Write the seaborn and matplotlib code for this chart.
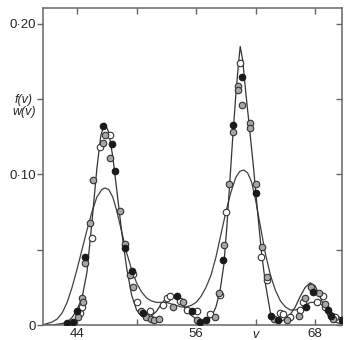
import numpy as np
import pandas as pd
import matplotlib
matplotlib.use("Agg")
import matplotlib.pyplot as plt
import seaborn as sns

# --- curves ---
v_f = [40.5, 41.5, 42.5, 43.0, 43.5, 44.0, 44.5, 45.0, 45.5, 46.0, 46.4, 46.8, 47.2, 47.6, 48.0,
       48.5, 49.0, 49.5, 50.0, 50.5, 51.0, 51.5, 52.0, 52.5, 53.0, 53.6, 54.2, 54.8, 55.4, 56.0,
       56.6, 57.1, 57.6, 58.0, 58.4, 58.8, 59.1, 59.4, 59.7, 60.0, 60.25, 60.45, 60.7, 61.0, 61.4,
       61.8, 62.2, 62.6, 63.0, 63.5, 64.0, 64.5, 65.0, 65.5, 66.0, 66.5, 67.0, 67.5, 68.0, 68.5,
       69.0, 69.5, 70.0, 70.5, 71.0]
f_val = [0.000, 0.000, 0.001, 0.002, 0.005, 0.010, 0.018, 0.035, 0.068, 0.104, 0.126, 0.134, 0.128, 0.112, 0.090,
         0.062, 0.038, 0.020, 0.010, 0.006, 0.005, 0.006, 0.009, 0.014, 0.018, 0.019, 0.017, 0.012, 0.007, 0.004,
         0.003, 0.003, 0.006, 0.012, 0.022, 0.040, 0.065, 0.095, 0.125, 0.152, 0.172, 0.185, 0.176, 0.155, 0.130,
         0.104, 0.075, 0.048, 0.027, 0.008, 0.002, 0.002, 0.004, 0.007, 0.012, 0.019, 0.025, 0.028, 0.026, 0.019,
         0.010, 0.004, 0.002, 0.001, 0.001]

v_w = [40.5, 41.0, 41.5, 42.0, 42.5, 43.0, 43.5, 44.0, 44.5, 45.0, 45.5, 46.0, 46.5, 46.8, 47.2,
       47.6, 48.0, 48.5, 49.0, 49.5, 50.0, 50.5, 51.0, 51.5, 52.0, 52.5, 53.0, 53.5, 54.0, 54.5,
       55.0, 55.5, 56.0, 56.5, 57.0, 57.5, 58.0, 58.5, 59.0, 59.5, 60.0, 60.4, 60.8, 61.2, 61.6,
       62.0, 62.5, 63.0, 63.5, 64.0, 64.5, 65.0, 65.5, 66.0, 66.5, 67.0, 67.5, 68.0, 68.5, 69.0,
       69.5, 70.0, 70.5, 71.0]
w_val = [0.000, 0.001, 0.002, 0.004, 0.008, 0.015, 0.025, 0.037, 0.050, 0.063, 0.075, 0.085, 0.090, 0.091, 0.090,
         0.085, 0.076, 0.062, 0.048, 0.037, 0.028, 0.022, 0.018, 0.016, 0.015, 0.015, 0.015, 0.014, 0.013, 0.012,
         0.012, 0.013, 0.015, 0.019, 0.025, 0.033, 0.045, 0.060, 0.075, 0.088, 0.098, 0.102, 0.103, 0.101, 0.095,
         0.083, 0.065, 0.047, 0.033, 0.023, 0.016, 0.012, 0.010, 0.010, 0.011, 0.013, 0.015, 0.015, 0.014, 0.012,
         0.009, 0.007, 0.005, 0.004]

# --- observed points ---
open_v = [44.3, 44.5, 45.5, 46.3, 47.3, 49.6, 50.0, 51.4, 52.7, 53.1, 53.4, 54.4, 55.1, 56.1, 57.4,
          58.4, 59.0, 60.4, 62.5, 63.1, 64.5, 64.8, 65.5, 66.5, 66.8, 68.2, 68.8, 69.0, 70.0]
open_f = [0.008, 0.012, 0.058, 0.118, 0.126, 0.034, 0.015, 0.009, 0.013, 0.018, 0.019, 0.016, 0.010, 0.009, 0.007,
          0.020, 0.075, 0.174, 0.045, 0.030, 0.008, 0.007, 0.005, 0.010, 0.015, 0.015, 0.019, 0.012, 0.005]

fill_v = [43.0, 43.6, 44.0, 44.8, 46.6, 47.5, 47.8, 48.8, 49.5, 50.6, 54.1, 55.6, 56.4, 57.0, 58.7,
          59.7, 60.6, 62.0, 63.6, 64.3, 67.1, 67.8, 69.3, 69.6, 70.7]
fill_f = [0.001, 0.002, 0.009, 0.045, 0.132, 0.120, 0.102, 0.051, 0.036, 0.008, 0.019, 0.009, 0.002, 0.003, 0.043,
          0.133, 0.165, 0.088, 0.006, 0.003, 0.012, 0.022, 0.010, 0.006, 0.003]

cross_v = [44.1, 44.5, 44.6, 44.8, 45.3, 45.6, 46.6, 46.8, 47.3, 48.3, 48.8, 49.3, 49.6, 50.4, 51.0,
           51.5, 51.8, 52.3, 53.7, 54.7, 56.1, 57.9, 58.3, 58.8, 59.3, 59.7, 60.2, 60.2, 60.6, 61.4,
           61.4, 62.0, 62.6, 63.2, 63.9, 65.2, 66.4, 67.0, 67.6, 68.4, 69.0, 69.8]
cross_f = [0.005, 0.018, 0.015, 0.041, 0.068, 0.096, 0.121, 0.126, 0.111, 0.076, 0.054, 0.033, 0.025, 0.009, 0.005,
           0.004, 0.003, 0.004, 0.012, 0.015, 0.003, 0.005, 0.021, 0.053, 0.094, 0.128, 0.159, 0.156, 0.146, 0.134,
           0.131, 0.094, 0.052, 0.032, 0.004, 0.003, 0.006, 0.018, 0.025, 0.021, 0.014, 0.004]

y_ticks = [0.0, 0.05, 0.10, 0.15, 0.20]
y_labels = ["0", "", "0·10", "", "0·20"]
x_ticks = [44, 50, 56, 62, 68]
x_labels = ["44", "", "56", "", "68"]

sns.set_theme(style="ticks")
plt.rcParams['font.family'] = ['Liberation Sans', 'DejaVu Sans']

fig = plt.figure(figsize=(3.45, 3.40), dpi=100)
ax = fig.add_axes([43/345, 1-325/340, 299/345, 317/340])

df_f = pd.DataFrame({"v": v_f, "y": f_val})
df_w = pd.DataFrame({"v": v_w, "y": w_val})
sns.lineplot(data=df_w, x="v", y="y", ax=ax, color="0.25", lw=0.9, sort=False)
sns.lineplot(data=df_f, x="v", y="y", ax=ax, color="0.2", lw=0.9, sort=False)

ms = 22
sns.scatterplot(x=open_v, y=open_f, ax=ax, s=ms, marker="o", facecolor="white",
                edgecolor="0.2", linewidth=0.8, zorder=3)
sns.scatterplot(x=cross_v, y=cross_f, ax=ax, s=ms, marker="o", facecolor="0.65",
                edgecolor="0.2", linewidth=0.8, zorder=3)
sns.scatterplot(x=fill_v, y=fill_f, ax=ax, s=ms, marker="o", facecolor="0.1",
                edgecolor="0.1", linewidth=0.8, zorder=4)

ax.set_xlim(40.57, 70.71)
ax.set_ylim(0, 0.2106)
ax.set_xticks(x_ticks)
ax.set_xticklabels(x_labels)
ax.set_yticks(y_ticks)
ax.set_yticklabels(y_labels)
ax.set_xlabel("")
ax.set_ylabel("")

for s in ax.spines.values():
    s.set_visible(True)
    s.set_color("0.4")
    s.set_linewidth(1.1)

ax.tick_params(axis="y", direction="out", length=4, width=1, color="0.4",
               labelsize=9.5, pad=1, right=True)
ax.tick_params(axis="x", direction="in", length=4, width=1, color="0.4",
               labelsize=9.5, pad=2, top=True)
for t in ax.yaxis.get_major_ticks():
    t.tick2line.set_marker(matplotlib.lines.TICKLEFT)

fig.text(24/345, 1-100/340, "f(v)", style="italic", fontsize=9, ha="center", va="center")
fig.text(24/345, 1-112/340, "w(v)", style="italic", fontsize=9, ha="center", va="center")
fig.text(255/345, 1-335/340, "v", style="italic", fontsize=9, ha="center", va="center")

fig.savefig("out.png", dpi=100)
